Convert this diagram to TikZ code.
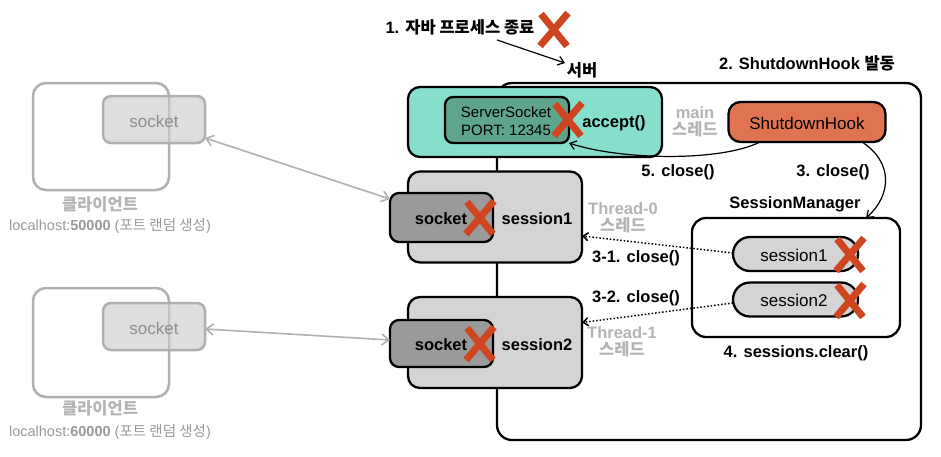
\documentclass[tikz,border=0pt]{standalone}
\usepackage{fontspec}
\setmainfont{Liberation Sans}
\newfontfamily\kr{Noto Sans CJK KR}
\usetikzlibrary{arrows.meta}
\definecolor{tealc}{HTML}{86DFCC}
\definecolor{ssockc}{HTML}{5FA58B}
\definecolor{hookc}{HTML}{E07452}
\definecolor{sessc}{HTML}{D4D4D4}
\definecolor{sockc}{HTML}{9A9A9A}
\definecolor{redc}{HTML}{CF4520}
\definecolor{lgray}{HTML}{B4B4B4}
\definecolor{cline}{HTML}{B0B0B0}
\definecolor{cfill}{HTML}{CCCCCC}
\definecolor{ctext}{HTML}{8E8E8E}
\newcommand{\K}[1]{{\kr #1}}
\begin{document}
\begin{tikzpicture}[x=1pt,y=-1pt,
  every node/.style={inner sep=0pt, outer sep=0pt},
  bx/.style={draw=black, line width=2.3pt},
  serverbox/.style={bx, rounded corners=15pt, fill=white},
  tealbox/.style={bx, rounded corners=12pt, fill=tealc},
  ssbox/.style={bx, rounded corners=8pt, fill=ssockc},
  hookbox/.style={bx, rounded corners=12pt, fill=hookc},
  mgrbox/.style={bx, rounded corners=14pt, fill=white},
  pillbox/.style={bx, rounded corners=17pt, fill=sessc},
  sessbox/.style={bx, rounded corners=12pt, fill=sessc},
  sockbox/.style={bx, rounded corners=9pt, fill=sockc},
  clientbox/.style={draw=cline, line width=2.5pt, rounded corners=13pt},
  csockbox/.style={draw=cline, line width=2.5pt, rounded corners=8pt, fill=cfill, fill opacity=0.65},
  lbl/.style={font=\bfseries\fontsize{16.5}{19}\selectfont},
  reg/.style={font=\fontsize{17}{20}\selectfont},
  glbl/.style={font=\bfseries\fontsize{16.5}{17.5}\selectfont, text=lgray, align=center},
  ctxt/.style={font=\fontsize{14.5}{17}\selectfont, text=lgray!85!black},
  redx/.pic={\draw[redc, line width=7pt] (-13,-16) -- (13,16);
             \draw[redc, line width=7pt] (14,-17) -- (-14,16);},
  garrow/.style={draw=cline, line width=1.6pt, {Straight Barb[length=7pt,width=11pt]}-{Straight Barb[length=7pt,width=11pt]}},
  darrow/.style={draw=black, line width=1.5pt, dotted, -{Straight Barb[length=5pt,width=8pt]}},
  karrow/.style={draw=black, line width=1.2pt, -{Straight Barb[length=6pt,width=9pt]}}
]
\useasboundingbox (0,0) rectangle (941,456);

% clients
\node[clientbox, minimum width=136pt, minimum height=107pt] (c1) at (101,136.5) {};
\node[csockbox, minimum width=102pt, minimum height=47pt] (cs1) at (154,119.5) {};
\node[reg, text=ctext] (cs1t) at (154,121) {socket};
\node[lbl, text=lgray] (c1t) at (100,204) {\K{클라이언트}};
\node[ctxt] (c1p) at (110,226) {localhost:\textbf{50000} (\K{포트 랜덤 생성})};

\node[clientbox, minimum width=136pt, minimum height=109pt] (c2) at (101,342.5) {};
\node[csockbox, minimum width=102pt, minimum height=47pt] (cs2) at (154,326.5) {};
\node[reg, text=ctext] (cs2t) at (154,328) {socket};
\node[lbl, text=lgray] (c2t) at (100,408) {\K{클라이언트}};
\node[ctxt] (c2p) at (110,432) {localhost:\textbf{60000} (\K{포트 랜덤 생성})};

% server
\node[serverbox, minimum width=424pt, minimum height=357pt] (srv) at (709,261.5) {};
\node[lbl] (srvt) at (582,70) {\K{서버}};
\node[lbl] (kill) at (460,27) {1. \K{자바 프로세스 종료}};
\pic at (554,30) {redx};
\node[lbl] (hookt) at (807,63) {2. ShutdownHook \K{발동}};

\node[tealbox, minimum width=254pt, minimum height=70pt] (acc) at (535,122) {};
\node[ssbox, minimum width=124pt, minimum height=46pt] (ss) at (507,120) {};
\node[font=\fontsize{15}{18}\selectfont, align=center] (sst) at (506,121) {ServerSocket\\PORT: 12345};
\node[lbl] (acct) at (614,123) {accept()};
\pic at (568,120) {redx};

\node[glbl] (mainl) at (695,122) {main\\\K{스레드}};
\node[hookbox, minimum width=157pt, minimum height=40pt] (hook) at (807,122) {};
\node[reg] (hookn) at (807,123) {ShutdownHook};

\node[lbl] (l5) at (678,172) {5. close()};
\node[lbl] (l3) at (833,172) {3. close()};
\node[lbl] (mgrt) at (795,204) {SessionManager};

\node[mgrbox, minimum width=208pt, minimum height=119pt] (mgr) at (796,277.5) {};
\node[pillbox, minimum width=125pt, minimum height=34pt] (m1) at (795.5,254) {};
\node[reg] (m1t) at (794,255) {session1};
\node[pillbox, minimum width=125pt, minimum height=34pt] (m2) at (795.5,299.5) {};
\node[reg] (m2t) at (794,300.5) {session2};
\pic at (850,255) {redx};
\pic at (850,301) {redx};
\node[lbl] (l4) at (796,353) {4. sessions.clear()};

% sessions
\node[sessbox, minimum width=174pt, minimum height=91pt] (s1) at (495,217) {};
\node[sockbox, minimum width=103pt, minimum height=49pt] (k1) at (441.5,217.5) {};
\node[lbl] (k1t) at (441,219) {socket};
\node[lbl] (s1t) at (537,219) {session1};
\pic at (480,218) {redx};

\node[sessbox, minimum width=174pt, minimum height=91pt] (s2) at (495,342.5) {};
\node[sockbox, minimum width=103pt, minimum height=47pt] (k2) at (441.5,343.5) {};
\node[lbl] (k2t) at (441,345) {socket};
\node[lbl] (s2t) at (537,345) {session2};
\pic at (480,344) {redx};

\node[glbl] (th0) at (623,218) {Thread-0\\\K{스레드}};
\node[glbl] (th1) at (622,342) {Thread-1\\\K{스레드}};
\node[lbl] (l31) at (636,258) {3-1. close()};
\node[lbl] (l32) at (636,298) {3-2. close()};

% connectors
\coordinate (kA) at (497,40);
\coordinate (kB) at (565,63);
\draw[karrow] (kA) -- (kB);
\draw[karrow] ([xshift=-47pt]hook.south) .. controls (720,162) and (620,160) .. (ss.south east);
\draw[karrow] ([xshift=55pt]hook.south) .. controls (893,162) and (892,195) .. ([xshift=70pt]mgr.north);
\draw[darrow] ([yshift=1pt]m1.west) -- ([yshift=-19pt]s1.east);
\draw[darrow] ([yshift=-3.5pt]m2.west) -- ([yshift=20pt]s2.east);
\draw[garrow] ([yshift=5pt]cs1.south east) -- ([yshift=18.5pt]k1.west);
\draw[garrow] ([yshift=-2.5pt]cs2.east) -- ([yshift=3.5pt]k2.west);
\end{tikzpicture}
\end{document}
